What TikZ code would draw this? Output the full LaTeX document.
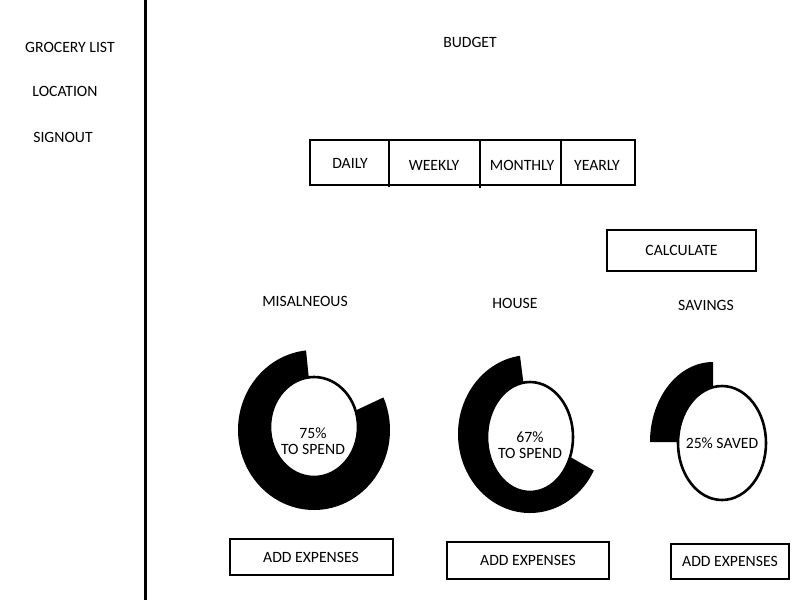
\documentclass[tikz,border=0pt]{standalone}
\usepackage{fontspec}
\setmainfont{Carlito}
\usepackage{tikz}
\usetikzlibrary{calc}

\begin{document}
\begin{tikzpicture}
[x=1pt,y=1pt,font=\fontsize{15.7}{17}\selectfont,
box/.style={draw,line width=2pt,inner sep=0pt},
hole/.style={draw,line width=2.6pt,fill=white},]

\useasboundingbox (0,0) rectangle (800,-600);

%Side menu
\draw[line width=3pt] (145,0) -- (145,-600);
\node (grocery) at (70,-47) {GROCERY LIST};
\node (location) at (65,-91) {LOCATION};
\node (signout) at (63,-137) {SIGNOUT};

%Title
\node (budget) at (470,-42) {BUDGET};

%Period tabs
\draw[line width=2pt] (310,-140) rectangle (635,-185);
\draw[line width=2pt] (389,-140) -- (389,-187);
\draw[line width=2.6pt] (480,-140) -- (480,-188);
\draw[line width=2pt] (561,-140) -- (561,-185);
\node (daily) at (350,-163) {DAILY};
\node (weekly) at (434,-165) {WEEKLY};
\node (monthly) at (522,-165) {MONTHLY};
\node (yearly) at (597,-165) {YEARLY};

\node (calc) at (681.5,-250.5)[box,minimum width=149,minimum height=41] {CALCULATE};

%Headings
\node (misc) at (305,-301) {MISALNEOUS};
\node (house) at (515,-303) {HOUSE};
\node (savings) at (706,-305) {SAVINGS};

%Donut 1
\fill (314,-430) -- +(96:76 and 80) arc[start angle=96,end angle=384,x radius=76,y radius=80] -- cycle;
\draw[hole] (314,-427) ellipse [x radius=44,y radius=50];
\node[align=center] (miscpct) at (313,-441) {75\%\\[-1pt]TO SPEND};

%Donut 2
\fill (530,-434) -- +(98:72 and 79) arc[start angle=98,end angle=332.5,x radius=72,y radius=79] -- cycle;
\draw[hole] (530,-437) ellipse [x radius=43,y radius=55];
\node[align=center] (housepct) at (530,-445) {67\%\\[-1pt]TO SPEND};

%Donut 3
\fill (713,-442) -- +(90:63 and 80) arc[start angle=90,end angle=180,x radius=63,y radius=80] -- cycle;
\draw[hole] (722,-443) ellipse [x radius=44,y radius=57];
\node (savepct) at (722,-443) {25\% SAVED};

%Buttons
\node (addmisc) at (311,-557)[box,minimum width=163,minimum height=36] {ADD EXPENSES};
\node (addhouse) at (528,-560)[box,minimum width=162,minimum height=37] {ADD EXPENSES};
\node (addsave) at (730,-561.5)[box,minimum width=118,minimum height=35] {ADD EXPENSES};

\end{tikzpicture}
\end{document}
